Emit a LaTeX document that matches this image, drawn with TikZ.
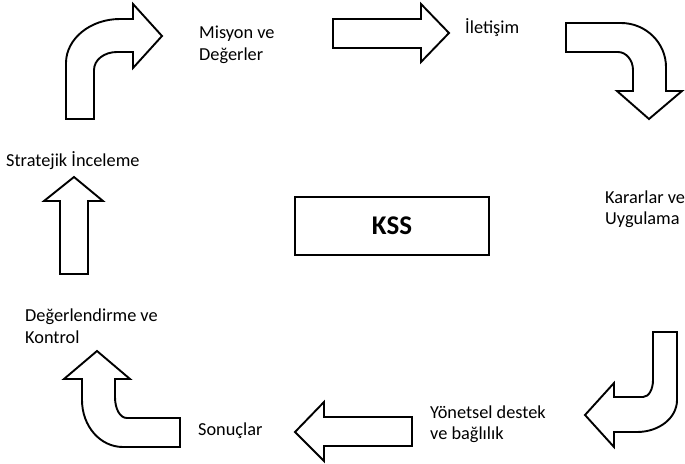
\documentclass[tikz,border=0pt]{standalone}
\usepackage{fontspec}
\setmainfont{Carlito}
\usepackage{xcolor}
\usepackage{tikz}
\definecolor{ink}{HTML}{000000}
\tikzset{
  blk/.style={draw=ink, fill=white, line width=1.9pt, line join=miter},
  boxk/.style={draw=ink, line width=1.9pt},
  lab/.style={text=ink, inner sep=0pt, anchor=west, align=left,
    font=\fontsize{18.3}{21.5}\selectfont},
  labk/.style={text=ink, inner sep=0pt, font=\fontsize{27}{30}\selectfont\bfseries}
}

\begin{document}
\begin{tikzpicture}[x=1pt,y=-1pt]
  \useasboundingbox (0,0) rectangle (685,463);

  % top left, up then right
  \draw[blk] (66,119) -- (66,63) .. controls (66,39) and (90,19) .. (120,19)
    -- (133,19) -- (133,4) -- (162,36) -- (133,68) -- (133,52) -- (117,52)
    .. controls (104,52) and (94,60) .. (94,70) -- (94,119) -- cycle;

  % top middle
  \draw[blk] (333,19) -- (421,19) -- (421,4) -- (449,33) -- (421,62)
    -- (421,48) -- (333,48) -- cycle;

  % top right, right then down
  \draw[blk] (566,23) -- (621,23) .. controls (646,23) and (666,43) .. (666,67)
    -- (666,91) -- (682,91) -- (649,119) -- (617,91) -- (633,91) -- (633,70)
    .. controls (633,60) and (626,52) .. (618,52) -- (566,52) -- cycle;

  % bottom right, down then left
  \draw[blk] (677,332) -- (677,400) .. controls (677,418) and (659,432) .. (637,432)
    -- (614,432) -- (614,447) -- (585,415) -- (614,383) -- (614,397) -- (643,397)
    .. controls (649,397) and (653,389) .. (653,380) -- (653,332) -- cycle;

  % bottom middle
  \draw[blk] (412,417) -- (324,417) -- (324,402) -- (295,432) -- (324,461)
    -- (324,446) -- (412,446) -- cycle;

  % bottom left, left then up
  \draw[blk] (180,418) -- (127,418) .. controls (120,418) and (115,409) .. (115,397)
    -- (115,379) -- (130,379) -- (97,351) -- (64,379) -- (82,379) -- (82,400)
    .. controls (82,426) and (100,447) .. (123,447) -- (180,447) -- cycle;

  % left
  \draw[blk] (60,274) -- (60,201) -- (44,201) -- (74,177) -- (103,201)
    -- (88,201) -- (88,274) -- cycle;

  % centre
  \draw[boxk] (295,197) rectangle (489,255);
  \node[labk] (kss) at (392,226) {KSS};

  \node[lab] (misyon) at (199,45) {Misyon ve\\Değerler};
  \node[lab] (ileti) at (465,28) {İletişim};
  \node[lab] (karar) at (605,209) {Kararlar ve\\Uygulama};
  \node[lab] (yonet) at (430,424) {Yönetsel destek\\ve bağlılık};
  \node[lab] (sonuc) at (198,431) {Sonuçlar};
  \node[lab] (degerl) at (25,326) {Değerlendirme ve\\Kontrol};
  \node[lab] (strat) at (6,161) {Stratejik İnceleme};
\end{tikzpicture}
\end{document}
